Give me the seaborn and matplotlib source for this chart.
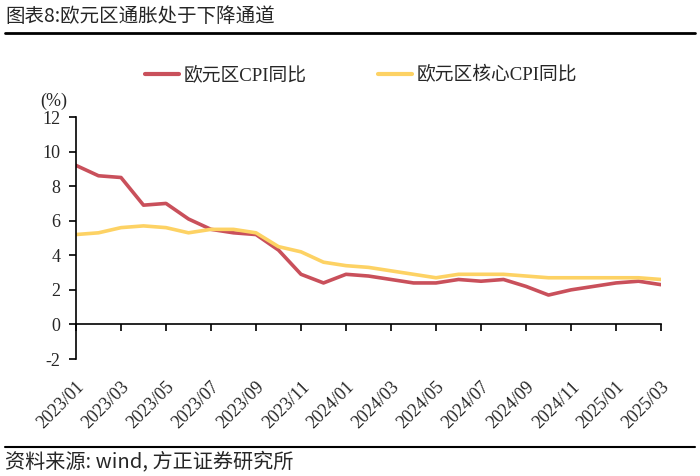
import numpy as np
import pandas as pd
import matplotlib
matplotlib.use("Agg")
import matplotlib.pyplot as plt
import seaborn as sns
from matplotlib.lines import Line2D

months = ["2023/01","2023/02","2023/03","2023/04","2023/05","2023/06","2023/07","2023/08","2023/09",
          "2023/10","2023/11","2023/12","2024/01","2024/02","2024/03","2024/04","2024/05","2024/06",
          "2024/07","2024/08","2024/09","2024/10","2024/11","2024/12","2025/01","2025/02","2025/03"]
cpi = [9.2, 8.6, 8.5, 6.9, 7.0, 6.1, 5.5, 5.3, 5.2, 4.3, 2.9, 2.4, 2.9, 2.8, 2.6, 2.4, 2.4, 2.6,
       2.5, 2.6, 2.2, 1.7, 2.0, 2.2, 2.4, 2.5, 2.3]
core = [5.2, 5.3, 5.6, 5.7, 5.6, 5.3, 5.5, 5.5, 5.3, 4.5, 4.2, 3.6, 3.4, 3.3, 3.1, 2.9, 2.7, 2.9,
        2.9, 2.9, 2.8, 2.7, 2.7, 2.7, 2.7, 2.7, 2.6]
series_names = ["欧元区CPI同比", "欧元区核心CPI同比"]
colors = ["#C9505B", "#FDD264"]
yticks = [-2, 0, 2, 4, 6, 8, 10, 12]

sns.set_style("white")
plt.rcParams["font.family"] = ["Liberation Serif", "Noto Sans CJK SC"]

n = len(months)
df = pd.DataFrame({
    "x": list(range(n)) * 2,
    "value": cpi + core,
    "series": [series_names[0]] * n + [series_names[1]] * n,
})

fig = plt.figure(figsize=(7.0, 4.76), dpi=100)
ax = fig.add_axes([76/700, (476-359)/476, (661-76)/700, (359-117)/476])

sns.lineplot(data=df, x="x", y="value", hue="series", palette=colors, linewidth=2.6,
             ax=ax, legend=True, solid_capstyle="round")

ax.set_xlim(0, n - 1)
ax.set_ylim(-2, 12)
ax.set_yticks(yticks)
ax.set_yticklabels([str(v) for v in yticks])
ax.set_xlabel("")
ax.set_ylabel("")

for s in ["top", "right"]:
    ax.spines[s].set_visible(False)
ax.spines["left"].set_color("black")
ax.spines["left"].set_linewidth(1.2)
ax.spines["bottom"].set_position(("data", 0))
ax.spines["bottom"].set_color("black")
ax.spines["bottom"].set_linewidth(1.2)

tick_pos = list(range(0, n, 2))
ax.set_xticks(tick_pos)
ax.tick_params(axis="x", bottom=True, direction="out", length=5, width=1.2, color="black",
               labelbottom=False)
ax.tick_params(axis="y", left=True, direction="out", length=5, width=1.2, color="black",
               labelsize=13, pad=6)

sec = ax.secondary_xaxis(0)
sec.set_xticks(tick_pos)
sec.set_xticklabels([months[i] for i in tick_pos], rotation=45, ha="right", rotation_mode="anchor")
sec.tick_params(length=0, labelsize=13, pad=14)
sec.spines["bottom"].set_visible(False)

leg = ax.legend(loc="center", bbox_to_anchor=(361/700, (476-75)/476), bbox_transform=fig.transFigure,
                ncol=2, frameon=False, fontsize=13.5, handlelength=1.8, columnspacing=3.8,
                handletextpad=0.25)
for h in leg.get_lines():
    h.set_linewidth(3)

fig.text(40/700, (476-101)/476, "(%)", fontsize=13, ha="left", va="center")

fig.text(5/700, (476-17)/476, "图表8:欧元区通胀处于下降通道", fontsize=14, ha="left", va="center",
         family=["Noto Sans CJK SC", "DejaVu Sans"])
fig.add_artist(Line2D([5/700, 695/700], [(476-33)/476]*2, color="black", linewidth=2))
fig.add_artist(Line2D([5/700, 695/700], [(476-447)/476]*2, color="black", linewidth=1.5))
fig.text(5/700, (476-463)/476, "资料来源: wind, 方正证券研究所", fontsize=14.5, ha="left", va="center",
         family=["Noto Sans CJK SC", "DejaVu Sans"], style="italic")

fig.savefig("out.png", dpi=100)
